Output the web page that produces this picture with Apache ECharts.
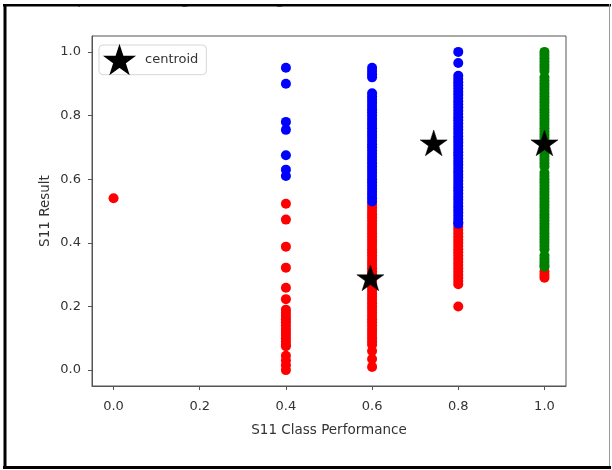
<!DOCTYPE html>
<html>
<head>
<meta charset="utf-8">
<script src="https://cdn.jsdelivr.net/npm/echarts@6/dist/echarts.min.js"></script>
<style>
  html, body { margin: 0; padding: 0; background: #fff; }
  #chart { width: 612px; height: 470px; }
</style>
</head>
<body>
<div id="chart"></div>
<script>
// Tick positions on both axes
const xTicks = [0.0, 0.2, 0.4, 0.6, 0.8, 1.0];
const yTicks = [0.0, 0.2, 0.4, 0.6, 0.8, 1.0];

// Class-performance columns (x) and the S11 results found in each column, per cluster
const xColumns = [0.0, 0.4, 0.6, 0.8, 1.0];

const redByColumn = [
  [0.54],
  [0.523, 0.473, 0.388, 0.322, 0.259, 0.223, 0.19, 0.18, 0.17, 0.16, 0.15, 0.14, 0.13, 0.12, 0.11,
   0.10, 0.09, 0.08, 0.075, 0.045, 0.03, 0.015, 0.0],
  [0.52, 0.51, 0.50, 0.49, 0.48, 0.47, 0.46, 0.45, 0.44, 0.43, 0.42, 0.41, 0.40, 0.39, 0.38, 0.37,
   0.36, 0.35, 0.34, 0.33, 0.32, 0.31, 0.30, 0.29, 0.28, 0.27, 0.26, 0.25, 0.24, 0.23, 0.22, 0.21,
   0.20, 0.19, 0.18, 0.17, 0.16, 0.15, 0.14, 0.13, 0.12, 0.11, 0.10, 0.09, 0.08, 0.06, 0.035, 0.01],
  [0.45, 0.44, 0.43, 0.42, 0.41, 0.40, 0.39, 0.38, 0.37, 0.36, 0.35, 0.34, 0.33, 0.32, 0.31, 0.30,
   0.29, 0.28, 0.27, 0.20],
  [0.31, 0.30, 0.29]
];

const blueByColumn = [
  [],
  [0.95, 0.90, 0.78, 0.755, 0.675, 0.63, 0.61],
  [0.95, 0.94, 0.93, 0.92, 0.87, 0.86, 0.85, 0.84, 0.83, 0.82, 0.81, 0.80, 0.79, 0.78, 0.77, 0.76,
   0.75, 0.74, 0.73, 0.72, 0.71, 0.70, 0.69, 0.68, 0.67, 0.66, 0.65, 0.64, 0.63, 0.62, 0.61, 0.60,
   0.59, 0.58, 0.57, 0.56, 0.55, 0.54, 0.53],
  [1.0, 0.965, 0.925, 0.915, 0.905, 0.895, 0.885, 0.875, 0.865, 0.855, 0.845, 0.835, 0.825, 0.815,
   0.805, 0.795, 0.785, 0.775, 0.765, 0.755, 0.745, 0.735, 0.725, 0.715, 0.705, 0.695, 0.685, 0.675,
   0.665, 0.655, 0.645, 0.635, 0.625, 0.615, 0.605, 0.595, 0.585, 0.575, 0.565, 0.555, 0.545, 0.535,
   0.525, 0.515, 0.505, 0.495, 0.485, 0.475, 0.465, 0.46],
  []
];

const greenByColumn = [
  [], [], [], [],
  [1.0, 0.99, 0.98, 0.97, 0.96, 0.95, 0.94, 0.92, 0.91, 0.90, 0.89, 0.88, 0.87, 0.86, 0.85, 0.84,
   0.83, 0.82, 0.81, 0.80, 0.79, 0.78, 0.77, 0.76, 0.75, 0.74, 0.73, 0.72, 0.71, 0.70, 0.69, 0.68,
   0.67, 0.66, 0.65, 0.64, 0.62, 0.61, 0.60, 0.59, 0.58, 0.57, 0.56, 0.55, 0.54, 0.53, 0.52, 0.51,
   0.50, 0.49, 0.48, 0.47, 0.46, 0.45, 0.44, 0.43, 0.42, 0.41, 0.40, 0.39, 0.38, 0.36, 0.35, 0.34,
   0.33, 0.325]
];

// Cluster centres
const centroidX = [0.596, 0.743, 1.0];
const centroidY = [0.29, 0.714, 0.714];

function toPairs(byColumn) {
  const out = [];
  byColumn.forEach((ys, i) => ys.forEach(y => out.push([xColumns[i], y])));
  return out;
}

// Five-pointed star outline (matplotlib-like '*' marker)
function starPath() {
  const pts = [];
  for (let k = 0; k < 10; k++) {
    const r = k % 2 === 0 ? 100 : 38.1966;
    const a = -Math.PI / 2 + k * Math.PI / 5;
    pts.push((r * Math.cos(a)).toFixed(2) + ' ' + (r * Math.sin(a)).toFixed(2));
  }
  return 'path://M' + pts.join(' L') + ' Z';
}
const STAR = starPath();

const FONT = 'DejaVu Sans';
const INK = '#333';
const SPINE = '#555';
const DOT = 10;

const chart = echarts.init(document.getElementById('chart'), null, { renderer: 'canvas' });

chart.setOption({
  animation: false,
  backgroundColor: '#fff',
  grid: {
    left: 92, top: 36, width: 474, height: 350,
    show: true, borderColor: SPINE, borderWidth: 1, backgroundColor: 'transparent'
  },
  legend: {
    data: ['centroid'],
    left: 99, top: 45,
    orient: 'vertical',
    padding: [1, 8, 1, 6],
    itemWidth: 27, itemHeight: 27,
    backgroundColor: '#fff',
    borderColor: '#d6d6d6', borderWidth: 1, borderRadius: 4,
    textStyle: { fontFamily: FONT, fontSize: 13, color: INK, padding: [0, 0, 0, 7] },
    icon: STAR,
    itemStyle: { color: '#000' }
  },
  xAxis: {
    type: 'value', min: -0.05, max: 1.05,
    name: 'S11 Class Performance',
    nameLocation: 'middle', nameGap: 37,
    nameTextStyle: { fontFamily: FONT, fontSize: 13.5, color: INK },
    axisLine: { show: true, onZero: false, lineStyle: { color: SPINE, width: 1 } },
    axisTick: { show: true, customValues: xTicks, length: 4, lineStyle: { color: SPINE } },
    axisLabel: {
      customValues: xTicks, formatter: v => v.toFixed(1), margin: 14,
      fontFamily: FONT, fontSize: 13, color: INK
    },
    splitLine: { show: false }
  },
  yAxis: {
    type: 'value', min: -0.05, max: 1.05,
    name: 'S11 Result',
    nameLocation: 'middle', nameGap: 40, nameRotate: 90, nameMoveOverlap: false,
    nameTextStyle: { fontFamily: FONT, fontSize: 13.5, color: INK },
    axisLine: { show: true, onZero: false, lineStyle: { color: SPINE, width: 1 } },
    axisTick: { show: true, customValues: yTicks, length: 4, lineStyle: { color: SPINE } },
    axisLabel: {
      customValues: yTicks, formatter: v => v.toFixed(1), margin: 11,
      fontFamily: FONT, fontSize: 13, color: INK
    },
    splitLine: { show: false }
  },
  series: [
    { type: 'scatter', data: toPairs(redByColumn), symbolSize: DOT, itemStyle: { color: '#ff0000', opacity: 1 }, silent: true, z: 2 },
    { type: 'scatter', data: toPairs(blueByColumn), symbolSize: DOT, itemStyle: { color: '#0000ff', opacity: 1 }, silent: true, z: 3 },
    { type: 'scatter', data: toPairs(greenByColumn), symbolSize: DOT, itemStyle: { color: '#008000', opacity: 1 }, silent: true, z: 4 },
    {
      name: 'centroid', type: 'scatter',
      data: centroidX.map((x, i) => [x, centroidY[i]]),
      symbol: STAR, symbolSize: 27, symbolKeepAspect: true,
      itemStyle: { color: '#000', borderColor: '#000', borderWidth: 0.5, opacity: 1 },
      silent: true, z: 5
    }
  ],
  graphic: [
    {
      type: 'text', left: 6, top: -11, z: 10,
      style: { text: 'Scatter plot showing clustering', font: '18px "DejaVu Sans"', fill: '#777' }
    },
    { type: 'rect', shape: { x: 0, y: 0, width: 612, height: 5 }, style: { fill: '#fff' }, z: 11 },
    { type: 'line', shape: { x1: 3, y1: 5.2, x2: 611, y2: 5.2 }, style: { stroke: '#000', lineWidth: 2.5 }, z: 12 },
    { type: 'line', shape: { x1: 5, y1: 4, x2: 5, y2: 469 }, style: { stroke: '#000', lineWidth: 3 }, z: 12 },
    { type: 'line', shape: { x1: 3, y1: 467.5, x2: 611, y2: 467.5 }, style: { stroke: '#000', lineWidth: 3 }, z: 12 },
    { type: 'line', shape: { x1: 609.5, y1: 4, x2: 609.5, y2: 466 }, style: { stroke: '#9a9a9a', lineWidth: 1 }, z: 12 }
  ]
});
</script>
</body>
</html>
